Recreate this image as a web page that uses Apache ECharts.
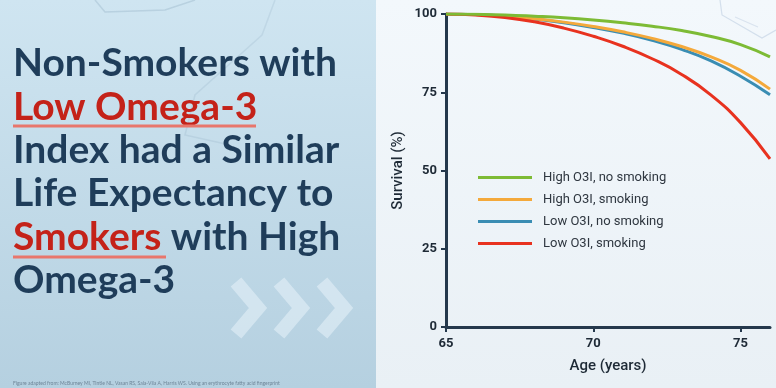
<!DOCTYPE html>
<html>
<head>
<meta charset="utf-8">
<script src="https://cdn.jsdelivr.net/npm/echarts@6/dist/echarts.min.js"></script>
<style>
html,body{margin:0;padding:0;background:#f1f6fa;}
#chart{width:776px;height:388px;}
</style>
</head>
<body>
<div id="chart"></div>
<script>
var ages = [65, 66, 67, 68, 69, 70, 71, 72, 73, 74, 75, 76];
var highNoSmoking = [100, 99.9, 99.7, 99.3, 98.8, 98.1, 97.2, 96.1, 94.7, 92.8, 90.2, 86.3];
var highSmoking   = [100, 99.8, 99.3, 98.5, 97.4, 96.0, 94.3, 92.2, 89.6, 86.3, 82.0, 76.0];
var lowNoSmoking  = [100, 99.8, 99.3, 98.4, 97.2, 95.7, 93.9, 91.6, 88.7, 85.0, 80.1, 74.2];
var lowSmoking    = [100, 99.7, 98.9, 97.5, 95.5, 92.9, 89.7, 85.7, 80.7, 74.1, 65.3, 53.7];
var seriesNames = ['High O3I, no smoking', 'High O3I, smoking', 'Low O3I, no smoking', 'Low O3I, smoking'];
var seriesColors = ['#7dbb35', '#f4a93b', '#3a8db3', '#e8321f'];
var yTicks = [0, 25, 50, 75, 100];
var xTicks = [65, 70, 75];
var titleLines = ['Non-Smokers with', 'Low Omega-3', 'Index had a Similar', 'Life Expectancy to', 'Smokers', ' with High', 'Omega-3'];

function pairs(vals) { return ages.map(function (a, i) { return [a, vals[i]]; }); }
var allVals = [highNoSmoking, highSmoking, lowNoSmoking, lowSmoking];

var navy = '#1f3d5a', red = '#c42219', ul = '#e8766c';
var titleFont = 'bold 39px Lato';
var asc = 32; // baseline offset from text top

var chart = echarts.init(document.getElementById('chart'));
var drawOrder = [2, 1, 3, 0];
var series = drawOrder.map(function (k) {
  return {
    name: seriesNames[k], type: 'line', smooth: true, showSymbol: false,
    data: pairs(allVals[k]),
    lineStyle: { width: 3, color: seriesColors[k] },
    itemStyle: { color: seriesColors[k] }
  };
});

function tline(text, baseline, color) {
  return { type: 'text', x: 13, y: baseline - asc,
    style: { text: text, font: titleFont, fill: color, verticalAlign: 'top', align: 'left' } };
}

var chev = 'rgba(232,243,249,0.55)';
var graphics = [
  { type: 'rect', shape: { x: 0, y: 0, width: 376, height: 388 }, z: -10,
    style: { fill: new echarts.graphic.LinearGradient(0, 0, 0, 1, [
      { offset: 0, color: '#cfe5f1' }, { offset: 1, color: '#b5d0e0' }]) } },
  { type: 'rect', shape: { x: 376, y: 0, width: 400, height: 388 }, z: -10,
    style: { fill: new echarts.graphic.LinearGradient(0, 0, 0, 1, [
      { offset: 0, color: '#f3f8fc' }, { offset: 1, color: '#e9f0f5' }]) } },
  // faint hexagon decoration
  { type: 'polyline', z: -9, shape: { points: [[95, 0], [105, 12], [165, 10], [195, 0]] },
    style: { stroke: 'rgba(120,150,175,0.25)', lineWidth: 1.5, fill: null } },
  { type: 'polyline', z: -9, shape: { points: [[275, 0], [262, 35], [195, 95], [185, 135], [230, 145]] },
    style: { stroke: 'rgba(120,150,175,0.16)', lineWidth: 1.5, fill: null } },
  { type: 'polyline', z: -9, shape: { points: [[720, 0], [722, 15], [762, 38], [776, 30]] },
    style: { stroke: 'rgba(120,150,190,0.25)', lineWidth: 1.2, fill: null } },
  { type: 'polyline', z: -9, shape: { points: [[735, 17], [758, 27]] },
    style: { stroke: 'rgba(120,150,190,0.2)', lineWidth: 1.2, fill: null } },
  // chevrons
  { type: 'polyline', z: -8, shape: { points: [[236, 282], [258, 308], [236, 334]] },
    style: { stroke: chev, lineWidth: 14, fill: null } },
  { type: 'polyline', z: -8, shape: { points: [[279, 282], [301, 308], [279, 334]] },
    style: { stroke: chev, lineWidth: 14, fill: null } },
  { type: 'polyline', z: -8, shape: { points: [[322, 282], [344, 308], [322, 334]] },
    style: { stroke: chev, lineWidth: 14, fill: null } },
  // title
  tline(titleLines[0], 76, navy),
  tline(titleLines[1], 120, red),
  tline(titleLines[2], 163, navy),
  tline(titleLines[3], 206, navy),
  { type: 'text', x: 13, y: 250 - asc, style: { text: '{r|' + titleLines[4] + '}{n|' + titleLines[5] + '}', verticalAlign: 'top', align: 'left',
      rich: { r: { font: titleFont, fill: red, color: red }, n: { font: titleFont, fill: navy, color: navy } } } },
  tline(titleLines[6], 293, navy),
  { type: 'line', shape: { x1: 13, y1: 126, x2: 256, y2: 126 }, style: { stroke: ul, lineWidth: 3 } },
  { type: 'line', shape: { x1: 13, y1: 257, x2: 166, y2: 257 }, style: { stroke: ul, lineWidth: 3 } },
  { type: 'text', x: 13, y: 383, style: { text: 'Figure adapted from: McBurney MI, Tintle NL, Vasan RS, Sala-Vila A, Harris WS. Using an erythrocyte fatty acid fingerprint',
      font: '5px Lato', fill: 'rgba(60,80,100,0.6)', verticalAlign: 'middle' } }
];

var axisColor = '#24384c';
chart.setOption({
  animation: false,
  grid: { left: 446, right: 6, top: 14, bottom: 61, containLabel: false },
  legend: {
    data: seriesNames, orient: 'vertical', left: 473, top: 166, itemGap: 9,
    icon: 'rect', itemWidth: 54, itemHeight: 3,
    textStyle: { fontFamily: 'Roboto', fontSize: 13, color: '#2f3740', padding: [0, 0, 0, 6] }
  },
  xAxis: {
    type: 'value', min: 65, max: 76, interval: 5,
    name: 'Age (years)', nameLocation: 'middle', nameGap: 32,
    nameTextStyle: { fontFamily: 'Roboto', fontSize: 15, fontWeight: 500, color: '#1e2a36' },
    axisLine: { show: true, lineStyle: { color: axisColor, width: 3 } },
    axisTick: { show: true, length: 5, lineStyle: { color: axisColor, width: 2 } },
    axisLabel: { showMaxLabel: false, margin: 10, fontFamily: 'Roboto', fontSize: 13, fontWeight: 'bold', color: '#1e2a36',
      formatter: function (v) { return xTicks.indexOf(v) >= 0 ? String(v) : ''; } },
    splitLine: { show: false }
  },
  yAxis: {
    type: 'value', min: 0, max: 100, interval: 25,
    name: 'Survival (%)', nameLocation: 'middle', nameGap: 40, nameRotate: 90,
    nameTextStyle: { fontFamily: 'Roboto', fontSize: 15, fontWeight: 500, color: '#1e2a36' },
    axisLine: { show: true, lineStyle: { color: axisColor, width: 3 } },
    axisTick: { show: true, length: 5, lineStyle: { color: axisColor, width: 2 } },
    axisLabel: { margin: 9, fontFamily: 'Roboto', fontSize: 13, fontWeight: 'bold', color: '#1e2a36',
      formatter: function (v) { return yTicks.indexOf(v) >= 0 ? String(v) : ''; } },
    splitLine: { show: false }
  },
  graphic: graphics,
  series: series
});
</script>
</body>
</html>
